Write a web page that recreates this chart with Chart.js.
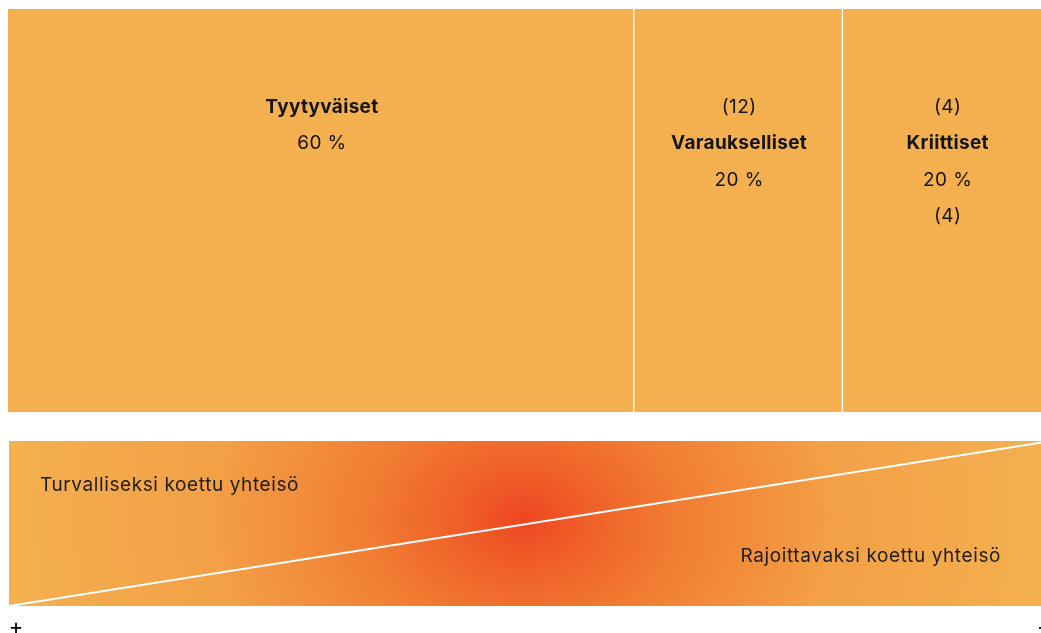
<!DOCTYPE html>
<html>
<head>
<meta charset="utf-8">
<script src="https://cdn.jsdelivr.net/npm/chart.js@4"></script>
<style>
  html, body { margin: 0; padding: 0; background: #fff; overflow: hidden; }
  #wrap { position: relative; width: 1041px; height: 633px; overflow: hidden; }
  #c1 { position: absolute; left: 0; top: 0; }
  #c2 { position: absolute; left: 0; top: 430px; }
</style>
</head>
<body>
<div id="wrap">
  <canvas id="c1" width="1060" height="420"></canvas>
  <canvas id="c2" width="1060" height="210"></canvas>
</div>
<script>
// ---- data ----
const categories = ['Tyytyväiset', 'Varaukselliset', 'Kriittiset'];
const shares = [60, 20, 20];
const countsAbove = [null, '(12)', '(4)'];
const countsBelow = [null, null, '(4)'];
const scaleLabels = ['Turvalliseksi koettu yhteisö', 'Rajoittavaksi koettu yhteisö'];
const scaleEnds = ['+', '−'];
const diagonalX = [0, 100];
const diagonalY = [0, 100];

const FONT = 'Inter, "Noto Sans", sans-serif';
const BAR = '#F4B04F';
const INK = '#141414';

// ---- chart 1 : stacked 100% bar ----
const segLabels = {
  id: 'segLabels',
  afterDatasetsDraw(chart) {
    const ctx = chart.ctx;
    const top = chart.chartArea.top;
    ctx.save();
    ctx.fillStyle = INK;
    ctx.textAlign = 'center';
    ctx.textBaseline = 'middle';
    chart.data.datasets.forEach((ds, i) => {
      const el = chart.getDatasetMeta(i).data[0];
      const cx = (el.x + el.base) / 2 + 1;
      const lines = [];
      if (countsAbove[i]) lines.push({t: countsAbove[i], b: false});
      lines.push({t: categories[i], b: true});
      lines.push({t: shares[i] + ' %', b: false});
      if (countsBelow[i]) lines.push({t: countsBelow[i], b: false});
      lines.forEach((ln, r) => {
        ctx.letterSpacing = ln.b ? '0.3px' : '0.4px';
        ctx.font = (ln.b ? '700 ' : '400 ') + '19px ' + FONT;
        ctx.fillText(ln.t, cx, top + 98 + r * 36.5);
      });
    });
    ctx.restore();
  }
};

const borders = [{right: 1}, {left: 1, right: 1}, {left: 1}];
new Chart(document.getElementById('c1'), {
  type: 'bar',
  data: {
    labels: [''],
    datasets: categories.map((c, i) => ({
      label: c,
      data: [shares[i]],
      backgroundColor: BAR,
      borderColor: '#ffffff',
      borderWidth: borders[i],
      borderSkipped: false,
      categoryPercentage: 1,
      barPercentage: 1
    }))
  },
  options: {
    indexAxis: 'y',
    responsive: false,
    animation: false,
    events: [],
    layout: { padding: { left: 8, right: 9, top: 9, bottom: 8 } },
    plugins: { legend: { display: false }, tooltip: { enabled: false } },
    scales: {
      x: { stacked: true, min: 0, max: 100, display: false },
      y: { stacked: true, display: false }
    }
  },
  plugins: [segLabels]
});

// ---- chart 2 : gradient scale with diagonal ----
const bandBg = {
  id: 'bandBg',
  beforeDatasetsDraw(chart) {
    const ctx = chart.ctx;
    const a = chart.chartArea;
    const cx = a.left + (a.right - a.left) * 0.493;
    const cy = a.top + (a.bottom - a.top) * 0.47;
    const rx = (a.right - a.left) * 0.5;
    const sy = 0.75;
    ctx.save();
    ctx.beginPath();
    ctx.rect(a.left, a.top, a.right - a.left, a.bottom - a.top);
    ctx.clip();
    ctx.translate(cx, cy);
    ctx.scale(1, sy);
    const g = ctx.createRadialGradient(0, 0, 0, 0, 0, rx);
    g.addColorStop(0, '#EE4622');
    g.addColorStop(0.1, '#EF5B27');
    g.addColorStop(0.3, '#F17D32');
    g.addColorStop(0.6, '#F3A046');
    g.addColorStop(1, '#F4B04F');
    ctx.fillStyle = g;
    ctx.fillRect(-rx * 2, -rx * 4, rx * 4, rx * 8);
    ctx.restore();
  },
  afterDatasetsDraw(chart) {
    const ctx = chart.ctx;
    const a = chart.chartArea;
    ctx.save();
    ctx.fillStyle = '#1e1e1e';
    ctx.font = '400 19px ' + FONT;
    ctx.letterSpacing = '0.6px';
    ctx.textBaseline = 'middle';
    ctx.textAlign = 'left';
    ctx.fillText(scaleLabels[0], a.left + 31, a.top + 44);
    ctx.textAlign = 'right';
    ctx.fillText(scaleLabels[1], a.right - 50, a.top + 115);
    ctx.letterSpacing = '0px';
    ctx.fillStyle = '#000';
    ctx.font = '400 22px ' + FONT;
    ctx.textAlign = 'center';
    ctx.fillText(scaleEnds[0], a.left + 7, a.bottom + 21);
    ctx.fillText(scaleEnds[1], a.right - 7, a.bottom + 21);
    ctx.restore();
  }
};

new Chart(document.getElementById('c2'), {
  type: 'line',
  data: {
    datasets: [{
      data: diagonalX.map((x, i) => ({x: x, y: diagonalY[i]})),
      borderColor: '#ffffff',
      borderWidth: 2,
      pointRadius: 0,
      fill: false,
      tension: 0
    }]
  },
  options: {
    responsive: false,
    animation: false,
    events: [],
    layout: { padding: { left: 9, right: 9, top: 11, bottom: 34 } },
    plugins: { legend: { display: false }, tooltip: { enabled: false } },
    scales: {
      x: { type: 'linear', min: 0, max: 100, display: false },
      y: { type: 'linear', min: 0, max: 100, display: false }
    }
  },
  plugins: [bandBg]
});
</script>
</body>
</html>
